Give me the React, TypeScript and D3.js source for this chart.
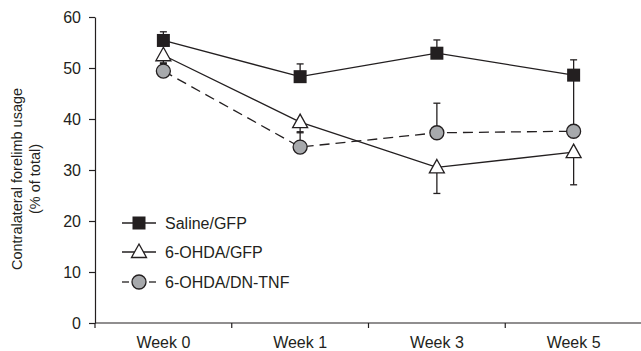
import React, { useRef, useEffect } from 'react';
import * as d3 from 'd3';

// weeks on the x axis
const weeks = ['Week 0', 'Week 1', 'Week 3', 'Week 5'];

// group means (% of total) and one-sided SEM as drawn
const salineMean = [55.4, 48.3, 52.9, 48.6];
const salineErr = [1.7, 2.5, 2.6, 3.0]; // drawn upward

const gfpMean = [52.5, 39.4, 30.5, 33.5];
const gfpErr = [1.5, 2.1, 5.1, 6.4]; // drawn downward

const tnfMean = [49.4, 34.5, 37.3, 37.6];
const tnfErr = [1.5, 3.0, 5.8, 11.0]; // drawn upward

const yTicks = [0, 10, 20, 30, 40, 50, 60];

const seriesNames = ['Saline/GFP', '6-OHDA/GFP', '6-OHDA/DN-TNF'];

const INK = '#231f20';
const GREY = '#a7a9ac';
const FONT = '"Liberation Sans", Arial, sans-serif';

export default function App() {
  const svgRef = useRef<SVGSVGElement>(null);

  useEffect(() => {
    const W = 641;
    const H = 351;
    const margin = { top: 17, right: 0, bottom: 28, left: 95 };

    const svg = d3.select(svgRef.current);
    svg.selectAll('*').remove();

    const x = d3
      .scaleBand<string>()
      .domain(weeks)
      .range([margin.left, W + 1])
      .paddingInner(0)
      .paddingOuter(0);
    const cx = (w: string) => (x(w) as number) + x.bandwidth() / 2;

    const y = d3
      .scaleLinear()
      .domain([0, 60])
      .range([H - margin.bottom, margin.top]);

    // y axis
    const yAxis = svg
      .append('g')
      .attr('transform', `translate(${margin.left},0)`)
      .call(d3.axisLeft(y).tickValues(yTicks).tickSize(6).tickSizeOuter(0));
    yAxis.select('.domain').attr('stroke', INK).attr('stroke-width', 1.2);
    yAxis.selectAll('.tick line').attr('stroke', INK).attr('stroke-width', 1.2);
    yAxis
      .selectAll('.tick text')
      .attr('x', -14)
      .attr('fill', INK)
      .style('font-family', FONT)
      .style('font-size', '16px');

    // x axis: ticks on band edges, labels centred in bands
    const xg = svg.append('g');
    const y0 = y(0);
    xg.append('line')
      .attr('x1', margin.left)
      .attr('x2', W)
      .attr('y1', y0)
      .attr('y2', y0)
      .attr('stroke', INK)
      .attr('stroke-width', 1.2);
    const edges = weeks.map(w => x(w) as number);
    xg.selectAll('line.tk')
      .data(edges)
      .join('line')
      .attr('class', 'tk')
      .attr('x1', d => d)
      .attr('x2', d => d)
      .attr('y1', y0)
      .attr('y2', y0 + 5)
      .attr('stroke', INK)
      .attr('stroke-width', 1.2);
    xg.selectAll('text')
      .data(weeks)
      .join('text')
      .attr('x', d => cx(d))
      .attr('y', y0 + 25)
      .attr('text-anchor', 'middle')
      .attr('fill', INK)
      .style('font-family', FONT)
      .style('font-size', '16px')
      .text(d => d);

    // y title
    const ty = 179;
    svg
      .append('text')
      .attr('transform', `translate(22,${ty}) rotate(-90)`)
      .attr('text-anchor', 'middle')
      .attr('fill', INK)
      .style('font-family', FONT)
      .style('font-size', '14.5px')
      .text('Contralateral forelimb usage');
    svg
      .append('text')
      .attr('transform', `translate(40,${ty}) rotate(-90)`)
      .attr('text-anchor', 'middle')
      .attr('fill', INK)
      .style('font-family', FONT)
      .style('font-size', '14.5px')
      .text('(% of total)');

    const line = d3
      .line<number>()
      .x((_, i) => cx(weeks[i]))
      .y(d => y(d));

    // connecting lines
    svg.append('path').attr('d', line(salineMean)).attr('fill', 'none').attr('stroke', INK).attr('stroke-width', 1.3);
    svg.append('path').attr('d', line(gfpMean)).attr('fill', 'none').attr('stroke', INK).attr('stroke-width', 1.3);
    svg
      .append('path')
      .attr('d', line(tnfMean))
      .attr('fill', 'none')
      .attr('stroke', INK)
      .attr('stroke-width', 1.3)
      .attr('stroke-dasharray', '10,6');

    // error bars
    const errBars = (mean: number[], err: number[], dir: number) => {
      const g = svg.append('g').attr('stroke', INK).attr('stroke-width', 1.3);
      mean.forEach((m, i) => {
        const xx = cx(weeks[i]);
        const end = y(m + dir * err[i]);
        g.append('line').attr('x1', xx).attr('x2', xx).attr('y1', y(m)).attr('y2', end);
        g.append('line').attr('x1', xx - 3.5).attr('x2', xx + 3.5).attr('y1', end).attr('y2', end);
      });
    };
    errBars(tnfMean, tnfErr, 1);
    errBars(gfpMean, gfpErr, -1);
    errBars(salineMean, salineErr, 1);

    // markers
    const triPath = (px: number, py: number) =>
      `M${px},${py - 8}L${px + 7.5},${py + 5.5}L${px - 7.5},${py + 5.5}Z`;
    const drawSquare = (g: any, px: number, py: number) =>
      g.append('rect').attr('x', px - 6.5).attr('y', py - 6.5).attr('width', 13).attr('height', 13).attr('fill', INK);
    const drawTri = (g: any, px: number, py: number) =>
      g.append('path').attr('d', triPath(px, py)).attr('fill', '#fff').attr('stroke', INK).attr('stroke-width', 1.3);
    const drawCircle = (g: any, px: number, py: number) =>
      g.append('circle').attr('cx', px).attr('cy', py).attr('r', 7).attr('fill', GREY).attr('stroke', INK).attr('stroke-width', 1.3);

    const mk = svg.append('g');
    tnfMean.forEach((m, i) => drawCircle(mk, cx(weeks[i]), y(m)));
    gfpMean.forEach((m, i) => drawTri(mk, cx(weeks[i]), y(m)));
    salineMean.forEach((m, i) => drawSquare(mk, cx(weeks[i]), y(m)));

    // legend
    const lg = svg.append('g');
    const rowsY = [223, 252, 282];
    const drawers = [drawSquare, drawTri, drawCircle];
    seriesNames.forEach((name, i) => {
      const ly = rowsY[i];
      if (i < 2) {
        lg.append('line').attr('x1', 122).attr('x2', 156).attr('y1', ly).attr('y2', ly).attr('stroke', INK).attr('stroke-width', 1.3);
      } else {
        lg.append('line').attr('x1', 122).attr('x2', 129).attr('y1', ly).attr('y2', ly).attr('stroke', INK).attr('stroke-width', 1.3);
        lg.append('line').attr('x1', 149).attr('x2', 156).attr('y1', ly).attr('y2', ly).attr('stroke', INK).attr('stroke-width', 1.3);
      }
      drawers[i](lg, 139, ly);
      lg.append('text')
        .attr('x', 165)
        .attr('y', ly + 6)
        .attr('fill', INK)
        .style('font-family', FONT)
        .style('font-size', '16px')
        .text(name);
    });
  }, []);

  return (
    <svg
      ref={svgRef}
      width={641}
      height={351}
      style={{ position: 'absolute', left: 0, top: 0, background: '#fff' }}
    />
  );
}
